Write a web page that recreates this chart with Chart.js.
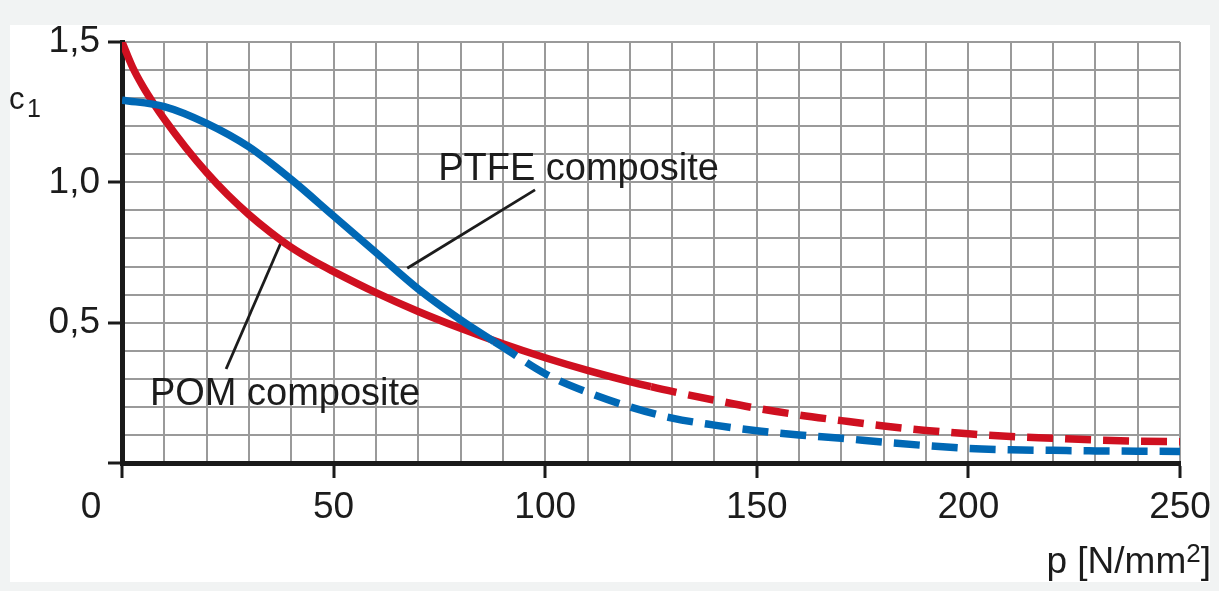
<!DOCTYPE html>
<html>
<head>
<meta charset="utf-8">
<script src="https://cdn.jsdelivr.net/npm/chart.js@4"></script>
<style>
  html, body { margin: 0; padding: 0; background: #f1f3f3; }
  canvas { display: block; }
</style>
</head>
<body>
<canvas id="c1Chart" width="1219" height="591"></canvas>
<script>
// Friction coefficient c1 vs. surface pressure p
const pomP = [0, 2.5, 5, 7.5, 10, 15, 20, 25, 30, 35, 40, 45, 50, 60, 70, 80, 90, 100, 110, 120, 125, 130, 140, 150, 160, 170, 180, 190, 200, 210, 220, 230, 240, 250];
const pomC = [1.5, 1.41, 1.34, 1.28, 1.225, 1.125, 1.035, 0.955, 0.885, 0.823, 0.768, 0.722, 0.682, 0.607, 0.54, 0.48, 0.425, 0.375, 0.33, 0.29, 0.272, 0.255, 0.224, 0.195, 0.171, 0.151, 0.132, 0.116, 0.104, 0.094, 0.088, 0.082, 0.078, 0.076];
const pomSolidUntil = 125;

const ptfeP = [0, 10, 20, 30, 40, 50, 60, 70, 80, 88, 90, 100, 110, 120, 130, 140, 150, 160, 170, 180, 190, 200, 210, 220, 230, 240, 250];
const ptfeC = [1.293, 1.27, 1.21, 1.126, 1.01, 0.88, 0.75, 0.62, 0.51, 0.432, 0.413, 0.318, 0.252, 0.2, 0.16, 0.135, 0.115, 0.1, 0.088, 0.074, 0.062, 0.052, 0.047, 0.045, 0.043, 0.042, 0.041];
const ptfeSolidUntil = 88;

// leader lines from label to curve (p, c)
const pomLeaderP = [24.6, 37.7];
const pomLeaderC = [0.335, 0.79];
const ptfeLeaderP = [67.4, 97.6];
const ptfeLeaderC = [0.694, 0.973];

const xMajorTicks = [50, 100, 150, 200, 250];
const yMajorTicks = [0.5, 1.0, 1.5];

const toPts = (xs, ys) => xs.map((x, i) => ({ x: x, y: ys[i] }));
const isMajorY = v => Math.abs(v * 2 - Math.round(v * 2)) < 1e-6;
const isMajorX = v => Math.abs(v % 50) < 1e-6;

const FONT = '"Liberation Sans", Arial, sans-serif';
const INK = '#1c1c1c';
const GRID = '#9a9a9a';

const dashAfter = limit => ctx => ctx.p0.parsed.x >= limit - 1e-6 ? [26, 12] : undefined;

// background: grey frame with white panel
const panelPlugin = {
    id: 'panel',
    beforeDraw(chart) {
        const c = chart.ctx;
        c.save();
        c.fillStyle = '#f1f3f3';
        c.fillRect(0, 0, chart.width, chart.height);
        c.fillStyle = '#ffffff';
        c.fillRect(10, 25, 1200, 557);
        c.restore();
    }
};

// titles and curve labels
const textPlugin = {
    id: 'texts',
    afterDraw(chart) {
        const c = chart.ctx;
        const xs = chart.scales.x, ys = chart.scales.y;
        c.save();
        c.fillStyle = INK;
        c.textBaseline = 'alphabetic';

        // shared origin label
        c.font = '37px ' + FONT;
        c.textAlign = 'center';
        c.fillText('0', 91, 518);

        // curve labels, anchored in data units
        c.textAlign = 'left';
        c.font = '38px ' + FONT;
        c.fillText('PTFE composite', xs.getPixelForValue(74.7), ys.getPixelForValue(1.008));
        c.fillText('POM composite', xs.getPixelForValue(6.6), ys.getPixelForValue(0.207));

        // y title c1
        c.font = '31px ' + FONT;
        c.fillText('c', 9, 109);
        c.font = '25px ' + FONT;
        c.fillText('1', 27, 117);

        // x title p [N/mm2]
        c.textAlign = 'right';
        c.font = '37px ' + FONT;
        const close = ']';
        const wClose = c.measureText(close).width;
        c.fillText(close, 1211, 573);
        c.font = '26px ' + FONT;
        const sup = '2';
        const wSup = c.measureText(sup).width;
        c.fillText(sup, 1211 - wClose, 562);
        c.font = '37px ' + FONT;
        c.fillText('p [N/mm', 1211 - wClose - wSup, 573);
        c.restore();
    }
};

const ctx = document.getElementById('c1Chart').getContext('2d');
const chart = new Chart(ctx, {
    type: 'line',
    data: {
        datasets: [
            {
                label: 'PTFE composite',
                data: toPts(ptfeP, ptfeC),
                borderColor: '#0068b5',
                borderWidth: 7.5,
                pointRadius: 0,
                cubicInterpolationMode: 'monotone',
                borderCapStyle: 'butt',
                segment: { borderDash: dashAfter(ptfeSolidUntil) }
            },
            {
                label: 'POM composite',
                data: toPts(pomP, pomC),
                borderColor: '#cf1020',
                borderWidth: 7.5,
                pointRadius: 0,
                cubicInterpolationMode: 'monotone',
                borderCapStyle: 'butt',
                segment: { borderDash: dashAfter(pomSolidUntil) }
            },
            {
                label: 'ptfe leader',
                data: toPts(ptfeLeaderP, ptfeLeaderC),
                borderColor: INK,
                borderWidth: 2.8,
                pointRadius: 0
            },
            {
                label: 'pom leader',
                data: toPts(pomLeaderP, pomLeaderC),
                borderColor: INK,
                borderWidth: 2.8,
                pointRadius: 0
            }
        ]
    },
    options: {
        responsive: false,
        animation: false,
        devicePixelRatio: 1,
        layout: { padding: { left: 0, top: 42, right: 39, bottom: 0 } },
        plugins: {
            legend: { display: false },
            tooltip: { enabled: false }
        },
        scales: {
            x: {
                type: 'linear',
                min: 0,
                max: 250,
                afterFit: s => { s.height = 128; },
                border: { color: '#1a1a1a', width: 5 },
                grid: {
                    color: GRID,
                    lineWidth: 2,
                    tickLength: 15,
                    tickWidth: 3,
                    tickColor: c => isMajorX(c.tick.value) ? '#1a1a1a' : 'rgba(0,0,0,0)'
                },
                ticks: {
                    stepSize: 10,
                    autoSkip: false,
                    maxRotation: 0,
                    padding: 8,
                    color: INK,
                    font: { family: FONT, size: 37 },
                    callback: v => xMajorTicks.includes(v) ? String(v) : ''
                }
            },
            y: {
                min: 0,
                max: 1.5,
                afterFit: s => { s.width = 122; },
                border: { color: '#1a1a1a', width: 5 },
                grid: {
                    color: GRID,
                    lineWidth: 2,
                    tickLength: 14,
                    tickWidth: 3,
                    tickColor: c => isMajorY(c.tick.value) ? '#1a1a1a' : 'rgba(0,0,0,0)'
                },
                ticks: {
                    stepSize: 0.1,
                    autoSkip: false,
                    padding: 8,
                    color: INK,
                    font: { family: FONT, size: 37 },
                    callback: v => (isMajorY(v) && yMajorTicks.some(m => Math.abs(m - v) < 1e-6)) ? v.toFixed(1).replace('.', ',') : ''
                }
            }
        }
    },
    plugins: [panelPlugin, textPlugin]
});
</script>
</body>
</html>
